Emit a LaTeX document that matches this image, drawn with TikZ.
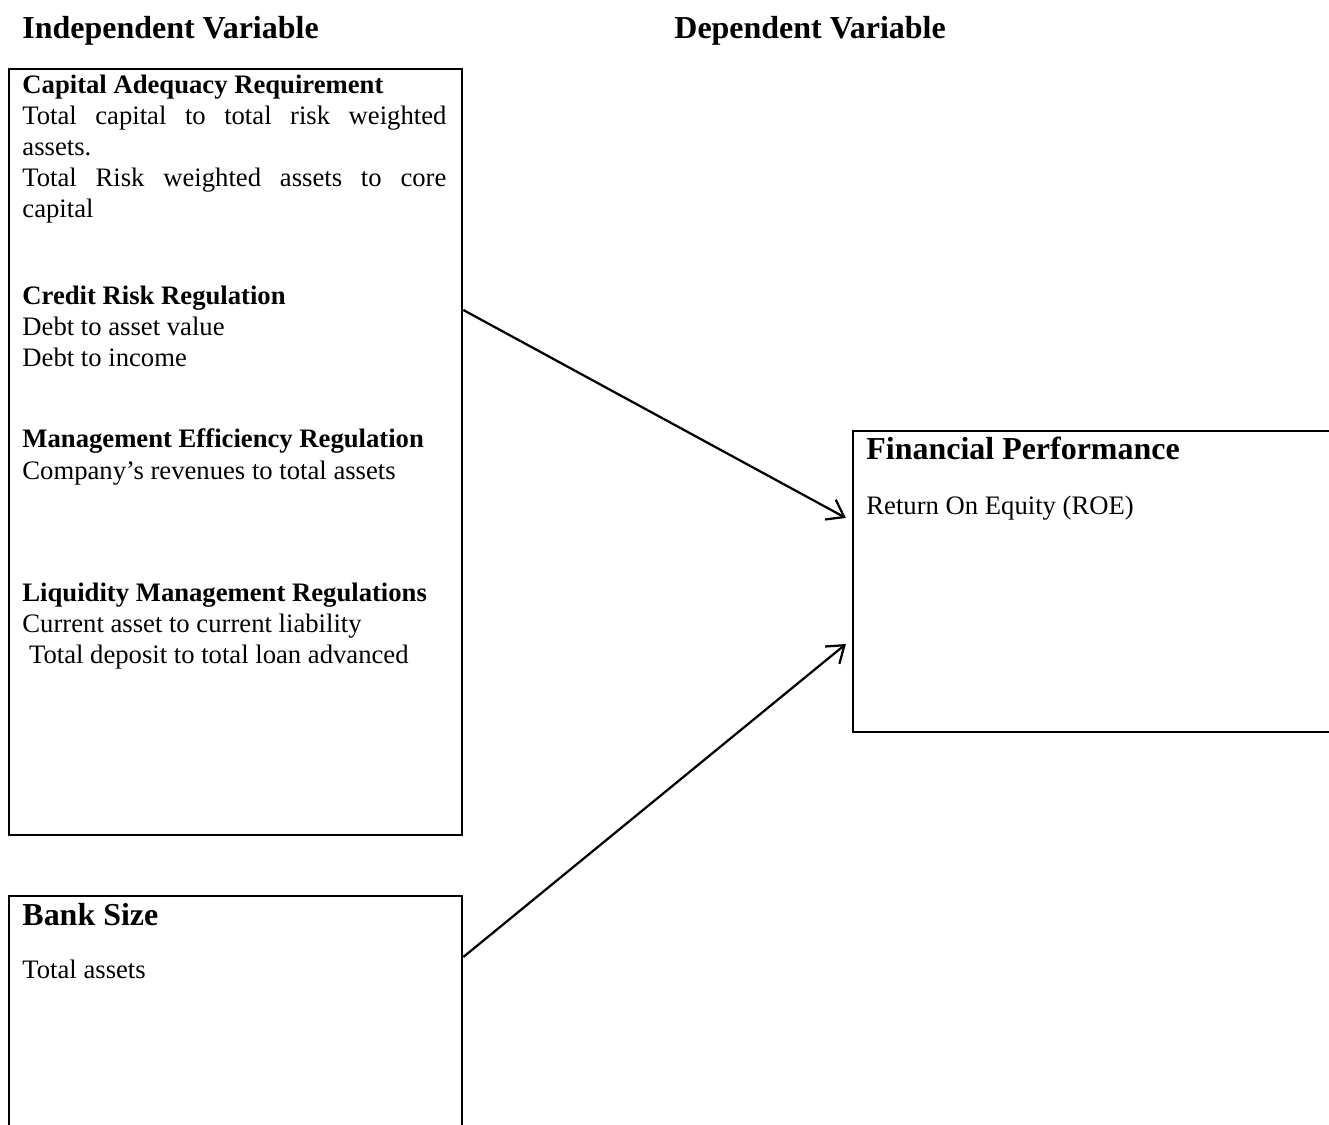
\documentclass[tikz,border=0pt]{standalone}
\usepackage{fontspec}
\setmainfont{Liberation Serif}
\usetikzlibrary{arrows.meta}
\begin{document}
\begin{tikzpicture}[x=0.4444pt,y=-0.4444pt,
  box/.style={draw,line width=1.05pt,inner sep=0,anchor=north west},
  txt/.style={anchor=base west,inner sep=0,font=\fontsize{11.85}{13.8}\selectfont},
  hd/.style={anchor=base west,inner sep=0,font=\fontsize{11.85}{13.8}\selectfont\bfseries},
  big/.style={anchor=base west,inner sep=0,font=\fontsize{14.2}{16}\selectfont\bfseries},
  arr/.style={line width=1pt,-{Straight Barb[length=7pt,width=10pt]}}]
\useasboundingbox (0,0) rectangle (1329,1125);
% boxes
\node[box,minimum width=201.3pt,minimum height=340.4pt] (ind) at (8,68) {};
\node[box,minimum width=201.3pt,minimum height=110pt] (size) at (8,895) {};
\node[box,minimum width=218pt,minimum height=133.8pt] (fp) at (852,430) {};
% column headings
\node[big] (h1) at (22,38) {Independent Variable};
\node[big] (h2) at (674,38) {Dependent Variable};
% independent variable box
\node[hd] (t1) at (22,93) {Capital Adequacy Requirement};
\node[txt] (t2) at (22,124) {\makebox[188.4pt][s]{Total capital to total risk weighted}};
\node[txt] (t3) at (22,155) {assets.};
\node[txt] (t4) at (22,186) {\makebox[188.4pt][s]{Total Risk weighted assets to core}};
\node[txt] (t5) at (22,217) {capital};
\node[hd] (t6) at (22,304) {Credit Risk Regulation};
\node[txt] (t7) at (22,335) {Debt to asset value};
\node[txt] (t8) at (22,366) {Debt to income};
\node[hd] (t9) at (22,447) {Management Efficiency Regulation};
\node[txt] (t10) at (22,479) {Company’s revenues to total assets};
\node[hd] (t11) at (22,601) {Liquidity Management Regulations};
\node[txt] (t12) at (22,632) {Current asset to current liability};
\node[txt] (t13) at (22,663) {\ Total deposit to total loan advanced};
% bank size box
\node[big] (b1) at (22,925) {Bank Size};
\node[txt] (b2) at (22,978) {Total assets};
% financial performance box
\node[big] (f1) at (866,459) {Financial Performance};
\node[txt] (f2) at (866,514) {Return On Equity (ROE)};
% arrows
\draw[arr] (ind.east |- 0,310) -- ([xshift=-2.7pt]fp.west |- 0,518);
\draw[arr] (size.east |- 0,957) -- ([xshift=-2.7pt]fp.west |- 0,644);
\end{tikzpicture}
\end{document}
